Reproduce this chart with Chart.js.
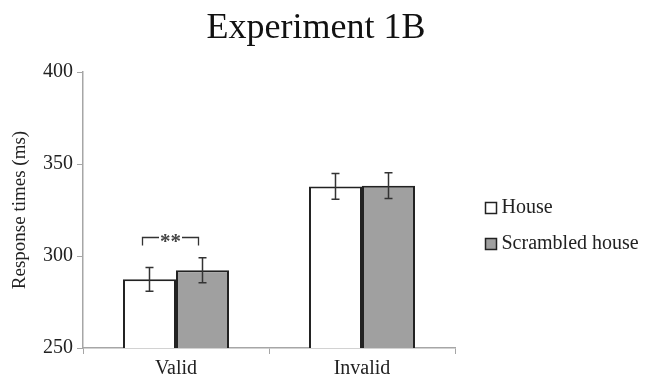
<!DOCTYPE html>
<html lang="en">

<head>
    <meta charset="UTF-8">
    <title>Experiment 1B</title>
    <script src="https://cdn.jsdelivr.net/npm/chart.js"></script>
    <style>
        html, body {
            margin: 0;
            padding: 0;
            background: #fff;
        }

        .chart-container {
            position: relative;
            width: 646px;
            height: 380px;
        }
    </style>
</head>

<body>
    <div class="chart-container">
        <canvas id="grafico"></canvas>
    </div>

    <script type="text/javascript">
        // Data
        var chartTitle = 'Experiment 1B';
        var categories = ['Valid', 'Invalid'];
        var seriesNames = ['House', 'Scrambled house'];
        var houseValues = [287.3, 337.8];
        var scrambledValues = [292.3, 338.2];
        var houseErrors = [6.5, 7.0];
        var scrambledErrors = [6.8, 7.0];
        var yTicks = [250, 300, 350, 400];
        var sigLabel = '**';

        var fontFamily = '"Liberation Serif", "DejaVu Serif", serif';
        var axisGray = '#a6a6a6';
        var textColor = '#222';

        // Title centred on the whole canvas (the legend column is outside the chart area)
        var titlePlugin = {
            id: 'pageTitle',
            afterDraw: function (chart) {
                var ctx = chart.ctx;
                ctx.save();
                ctx.font = '36px ' + fontFamily;
                ctx.fillStyle = '#111';
                ctx.textAlign = 'center';
                ctx.textBaseline = 'alphabetic';
                ctx.fillText(chartTitle, 316, 38);
                ctx.restore();
            }
        };

        // Error bars + significance bracket
        var errorBarPlugin = {
            id: 'errorBars',
            afterDatasetsDraw: function (chart) {
                var ctx = chart.ctx;
                var y = chart.scales.y;
                var errs = [houseErrors, scrambledErrors];
                ctx.save();
                ctx.strokeStyle = '#333';
                ctx.lineWidth = 1.5;
                chart.data.datasets.forEach(function (ds, di) {
                    var meta = chart.getDatasetMeta(di);
                    meta.data.forEach(function (bar, i) {
                        var v = ds.data[i];
                        var top = y.getPixelForValue(v + errs[di][i]);
                        var bot = y.getPixelForValue(v - errs[di][i]);
                        var cap = 4;
                        ctx.beginPath();
                        ctx.moveTo(bar.x, top);
                        ctx.lineTo(bar.x, bot);
                        ctx.moveTo(bar.x - cap, top);
                        ctx.lineTo(bar.x + cap, top);
                        ctx.moveTo(bar.x - cap, bot);
                        ctx.lineTo(bar.x + cap, bot);
                        ctx.stroke();
                    });
                });

                // bracket over the Valid pair
                var b0 = chart.getDatasetMeta(0).data[0];
                var b1 = chart.getDatasetMeta(1).data[0];
                var yTop = Math.round(y.getPixelForValue(Math.max(houseValues[0] + houseErrors[0], scrambledValues[0] + scrambledErrors[0]) + 11)) + 0.5;
                var x0 = Math.round(b0.x - 7.5) + 0.5;
                var x1 = Math.round(b1.x - 4.5) + 0.5;
                var mid = (x0 + x1) / 2;
                ctx.font = 'bold 21px ' + fontFamily;
                var tw = ctx.measureText(sigLabel).width;
                ctx.strokeStyle = '#333';
                ctx.lineWidth = 1.3;
                ctx.beginPath();
                ctx.moveTo(x0, yTop + 8);
                ctx.lineTo(x0, yTop);
                ctx.lineTo(mid - tw / 2 - 1, yTop);
                ctx.moveTo(mid + tw / 2 + 1, yTop);
                ctx.lineTo(x1, yTop);
                ctx.lineTo(x1, yTop + 8);
                ctx.stroke();
                ctx.fillStyle = '#444';
                ctx.textAlign = 'center';
                ctx.textBaseline = 'middle';
                ctx.fillText(sigLabel, mid, yTop + 5);
                ctx.restore();
            }
        };

        // Legend drawn at the right
        var legendPlugin = {
            id: 'sideLegend',
            afterDraw: function (chart) {
                var ctx = chart.ctx;
                ctx.save();
                ctx.font = '20px ' + fontFamily;
                ctx.textBaseline = 'middle';
                ctx.textAlign = 'left';
                chart.data.datasets.forEach(function (ds, i) {
                    var x = 485.5;
                    var yy = 208 + i * 36;
                    ctx.fillStyle = ds.backgroundColor;
                    ctx.fillRect(x, yy - 5.5, 11, 11);
                    ctx.strokeStyle = '#222';
                    ctx.lineWidth = 1.5;
                    ctx.strokeRect(x, yy - 5.5, 11, 11);
                    ctx.fillStyle = textColor;
                    ctx.fillText(ds.label, x + 16, yy);
                });
                ctx.restore();
            }
        };

        var ctx = document.getElementById('grafico').getContext('2d');
        var grafico = new Chart(ctx, {
            type: 'bar',
            data: {
                labels: categories,
                datasets: [{
                    label: seriesNames[0],
                    data: houseValues,
                    backgroundColor: '#ffffff',
                    borderColor: '#222',
                    borderWidth: 2,
                    categoryPercentage: 0.57,
                    barPercentage: 1.0
                }, {
                    label: seriesNames[1],
                    data: scrambledValues,
                    backgroundColor: '#a0a0a0',
                    borderColor: '#222',
                    borderWidth: 2,
                    categoryPercentage: 0.57,
                    barPercentage: 1.0
                }]
            },
            options: {
                responsive: true,
                maintainAspectRatio: false,
                animation: false,
                layout: {
                    padding: { left: 0, right: 191, top: 72, bottom: 0 }
                },
                plugins: {
                    legend: { display: false },
                    tooltip: { enabled: false },
                    title: { display: false }
                },
                scales: {
                    x: {
                        grid: {
                            display: true,
                            drawOnChartArea: false,
                            offset: true,
                            tickLength: 6,
                            color: axisGray
                        },
                        border: { color: axisGray, width: 1.5 },
                        ticks: {
                            color: textColor,
                            padding: 3,
                            font: { family: fontFamily, size: 20 }
                        },
                        afterFit: function (scale) { scale.height = 32; }
                    },
                    y: {
                        min: 250,
                        max: 400,
                        afterBuildTicks: function (scale) {
                            scale.ticks = yTicks.map(function (v) { return { value: v }; });
                        },
                        grid: {
                            display: true,
                            drawOnChartArea: false,
                            tickLength: 6,
                            color: axisGray
                        },
                        border: { color: axisGray, width: 1.5 },
                        ticks: {
                            color: textColor,
                            padding: 4,
                            font: { family: fontFamily, size: 20 }
                        },
                        title: {
                            display: true,
                            text: 'Response times (ms)',
                            color: textColor,
                            font: { family: fontFamily, size: 19 },
                            padding: { top: 9, bottom: 4 }
                        },
                        afterFit: function (scale) { scale.width = 83; }
                    }
                }
            },
            plugins: [errorBarPlugin, legendPlugin, titlePlugin]
        });
    </script>

</body>

</html>
